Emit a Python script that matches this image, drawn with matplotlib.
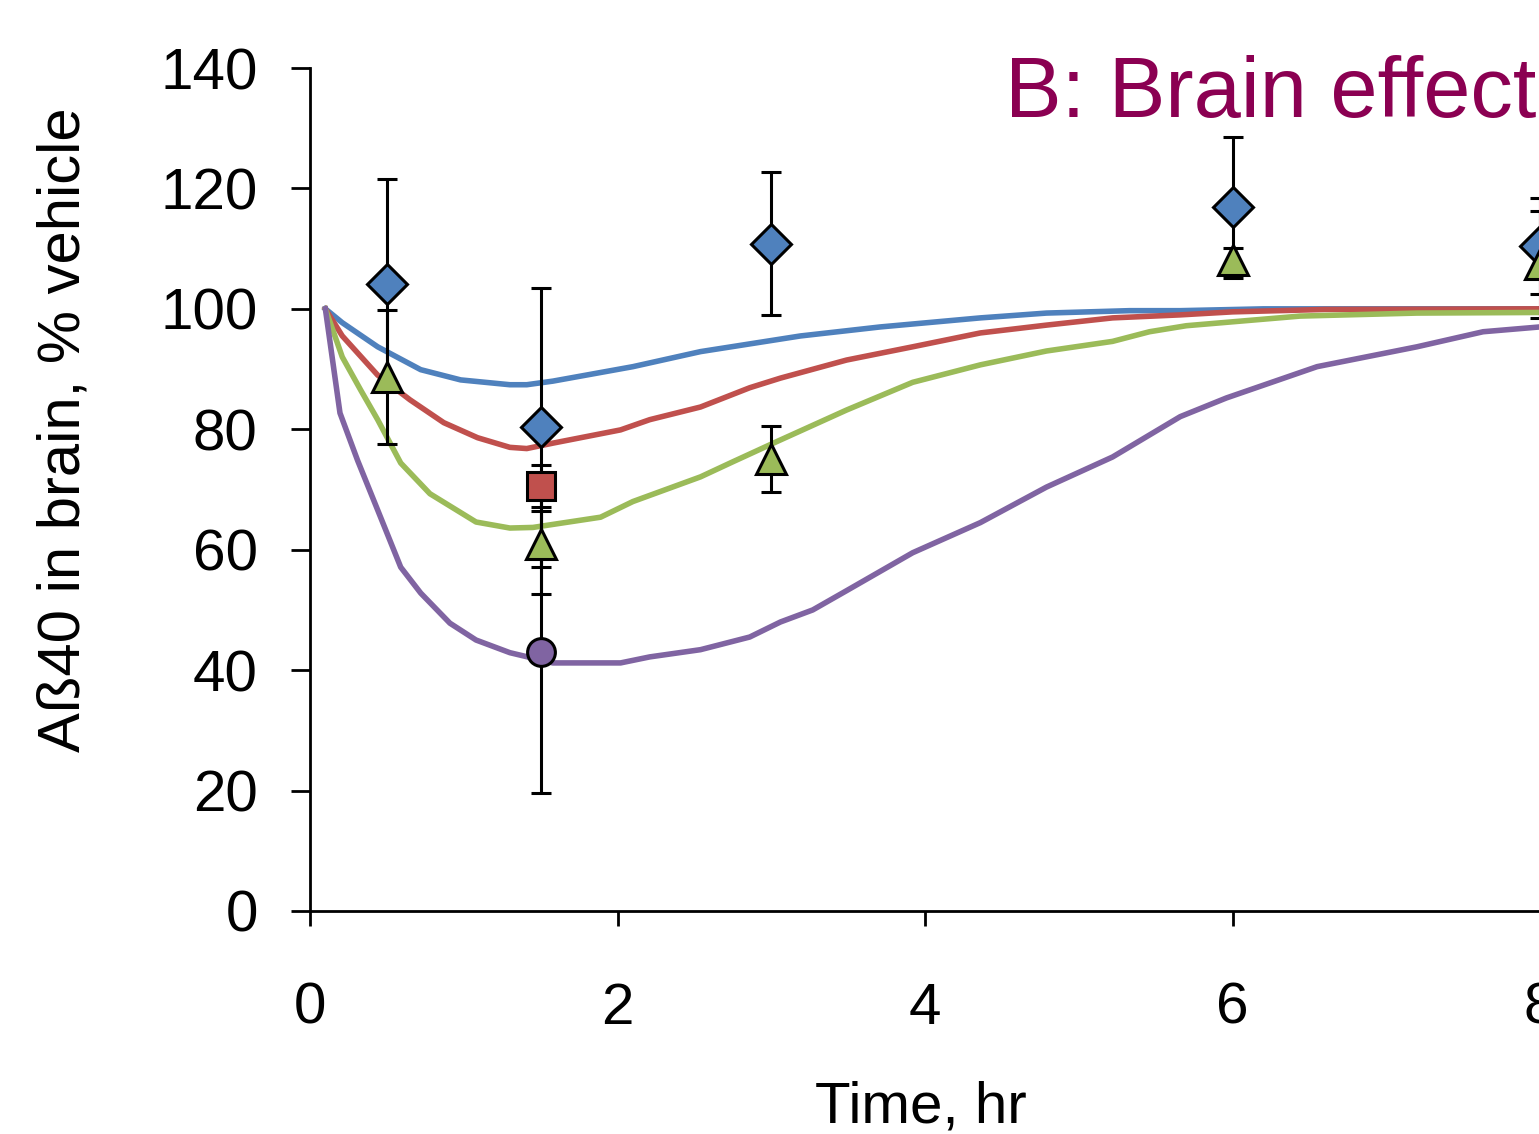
import numpy as np
import matplotlib
matplotlib.use('Agg')
from matplotlib import pyplot as plt

plt.rcParams['font.family'] = ['Liberation Sans', 'DejaVu Sans']

# model curves (time in hr, % vehicle)
t_blue = [0.1, 0.21, 0.44, 0.72, 0.98, 1.3, 1.41, 1.58, 2.1, 2.54, 3.04, 3.19,
          3.71, 4.36, 4.79, 5.33, 5.66, 6.2, 8.0]
y_blue = [100, 97.7, 93.7, 89.9, 88.2, 87.4, 87.4, 88.0, 90.4, 92.9, 94.9, 95.5,
          97.0, 98.5, 99.3, 99.7, 99.7, 100, 100]

t_red = [0.1, 0.21, 0.44, 0.65, 0.87, 1.09, 1.3, 1.41, 1.58, 2.02, 2.21, 2.54,
         2.86, 3.06, 3.49, 3.92, 4.36, 4.79, 5.22, 5.66, 6.0, 6.6, 8.0]
y_red = [100, 95.5, 89.0, 84.9, 81.1, 78.6, 77.0, 76.8, 77.7, 79.9, 81.6, 83.7,
         86.9, 88.5, 91.5, 93.7, 96.0, 97.3, 98.5, 99.0, 99.5, 99.9, 100]

t_green = [0.1, 0.21, 0.33, 0.44, 0.59, 0.78, 1.08, 1.3, 1.45, 1.89, 2.1, 2.54,
           2.75, 3.04, 3.49, 3.92, 4.36, 4.79, 5.22, 5.46, 5.7, 6.44, 7.2, 8.0]
y_green = [100, 92.0, 86.5, 81.6, 74.4, 69.3, 64.6, 63.6, 63.7, 65.4, 68.0, 72.1,
           74.6, 78.0, 83.2, 87.8, 90.7, 93.0, 94.6, 96.2, 97.2, 98.8, 99.3, 99.4]

t_purple = [0.1, 0.195, 0.31, 0.44, 0.59, 0.72, 0.91, 1.08, 1.3, 1.58, 2.02, 2.21,
            2.54, 2.86, 3.06, 3.27, 3.49, 3.92, 4.36, 4.79, 5.22, 5.66, 5.96,
            6.55, 7.2, 7.63, 8.0]
y_purple = [100, 82.7, 74.8, 66.6, 57.1, 52.8, 47.8, 45.0, 42.9, 41.2, 41.2, 42.2,
            43.4, 45.5, 48.0, 50.0, 53.2, 59.5, 64.5, 70.4, 75.4, 82.1, 85.2,
            90.4, 93.7, 96.2, 97.0]

# observed data (mean, error)
t_dia = [0.5, 1.5, 3, 6, 8]
y_dia = [104.2, 80.3, 110.8, 116.9, 110.4]
e_dia = [17.4, 23.2, 11.9, 11.7, 8.0]

t_sq = [1.5]
y_sq = [70.6]
e_sq = [3.5]

t_tri = [0.5, 1.5, 3, 6, 8]
y_tri = [88.7, 61.0, 75.1, 108.1, 107.4]
e_tri = [11.1, 8.3, 5.5, 2.0, 8.9]

t_circ = [1.5]
y_circ = [43.0]
e_circ = [23.4]

blue = '#4F81BD'
red = '#C0504D'
green = '#9BBB59'
purple = '#8064A2'

W, H = 1539, 1134
fig = plt.figure(figsize=(W / 100, H / 100), dpi=100)
ax = fig.add_axes([310 / W, (H - 911) / H, 1230 / W, 843 / H])

for t, y, c in [(t_blue, y_blue, blue), (t_red, y_red, red),
                (t_green, y_green, green), (t_purple, y_purple, purple)]:
    ax.plot(t, y, color=c, lw=4, zorder=2, clip_on=False)

pts = [(t_dia, y_dia, e_dia, 'D', 20.5, blue),
       (t_sq, y_sq, e_sq, 's', 20, red),
       (t_tri, y_tri, e_tri, '^', 22, green),
       (t_circ, y_circ, e_circ, 'o', 20, purple)]
for t, y, e, m, ms, c in pts:
    ax.errorbar(t, y, yerr=e, fmt='none', ecolor='black', elinewidth=2.2,
                capsize=7.2, capthick=2.2, zorder=3, clip_on=False)
for t, y, e, m, ms, c in pts:
    ax.plot(t, y, ls='none', marker=m, ms=ms, mfc=c, mec='black', mew=2.2,
            zorder=4, clip_on=False)

ax.set_xlim(0, 8)
ax.set_ylim(0, 140)
ax.set_xticks([0, 2, 4, 6, 8])
ax.set_yticks(np.arange(0, 141, 20))
for s in ['top', 'right']:
    ax.spines[s].set_visible(False)
for s in ['left', 'bottom']:
    ax.spines[s].set_linewidth(2)
ax.tick_params(axis='y', direction='out', length=13.7, width=2, pad=24, labelsize=42)
ax.tick_params(axis='x', direction='out', length=11, width=2, pad=40, labelsize=42)

fig.text(921 / W, 1 - 1122 / H, 'Time, hr', ha='center', va='baseline', fontsize=42)
fig.text(64 / W, 1 - 430 / H, 'A\u00df40 in brain, % vehicle', rotation=90,
         ha='center', va='center', fontsize=43)
fig.text(1005 / W, 1 - 117 / H, 'B: Brain effect', ha='left', va='baseline',
         fontsize=61, color='#8B0052')

fig.savefig('out.png', dpi=100)
